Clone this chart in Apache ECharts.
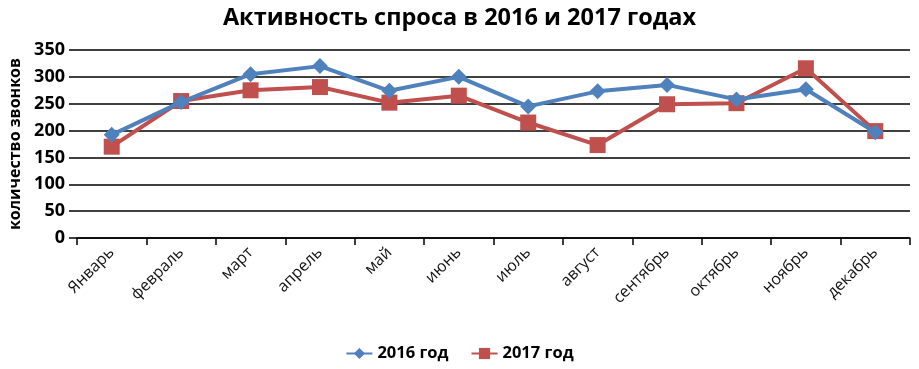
<!DOCTYPE html>
<html><head><meta charset="utf-8">
<script src="https://cdn.jsdelivr.net/npm/echarts@6/dist/echarts.min.js"></script>
<style>html,body{margin:0;padding:0;background:#fff}#c{width:919px;height:369px}</style>
</head><body><div id="c"></div>
<script>
const months = ['Январь','февраль','март','апрель','май','июнь','июль','август','сентябрь','октябрь','ноябрь','декабрь'];
const values2016 = [192, 253, 305, 320, 274, 300, 245, 273, 285, 258, 277, 197];
const values2017 = [170, 255, 275, 281, 252, 265, 215, 173, 249, 251, 316, 199];
const seriesNames = ['2016 год', '2017 год'];
const yTicks = {min: 0, max: 350, interval: 50};

const font = '"Open Sans", Lato, sans-serif';
const chart = echarts.init(document.getElementById('c'));
chart.setOption({
  animation: false,
  title: {
    text: 'Активность спроса в 2016 и 2017 годах',
    left: 'center', top: 1,
    textStyle: {fontFamily: font, fontWeight: 'bold', fontSize: 23.5, color: '#000'}
  },
  legend: {
    bottom: 2, left: 'center', itemGap: 22, itemWidth: 26, itemHeight: 14,
    textStyle: {fontFamily: font, fontWeight: 'bold', fontSize: 16.5, color: '#000'},
    data: seriesNames
  },
  grid: {left: 77, right: 9, top: 50, bottom: 131, outerBoundsMode: 'none', containLabel: false},
  xAxis: {
    type: 'category', data: months, boundaryGap: true,
    axisLine: {lineStyle: {color: '#000', width: 1.5}},
    axisTick: {show: true, length: 7, lineStyle: {color: '#000', width: 1.5}},
    axisLabel: {rotate: 45, fontFamily: font, fontSize: 16, color: '#111', margin: 12}
  },
  yAxis: {
    type: 'value', min: yTicks.min, max: yTicks.max, interval: yTicks.interval,
    name: 'количество звонков', nameLocation: 'middle', nameGap: 51, nameRotate: 90,
    nameTextStyle: {fontFamily: font, fontWeight: 'bold', fontSize: 16, color: '#000'},
    axisLine: {show: false},
    axisTick: {show: true, length: 8, lineStyle: {color: '#000', width: 1.5}},
    splitLine: {lineStyle: {color: '#000', width: 1.5}},
    axisLabel: {fontFamily: font, fontWeight: 'bold', fontSize: 18, color: '#000', margin: 12}
  },
  series: [
    {name: seriesNames[0], type: 'line', data: values2016, symbol: 'diamond', symbolSize: 16,
     lineStyle: {color: '#4F81BD', width: 4}, itemStyle: {color: '#4F81BD'}, z: 3},
    {name: seriesNames[1], type: 'line', data: values2017, symbol: 'rect', symbolSize: 16,
     lineStyle: {color: '#C0504D', width: 4}, itemStyle: {color: '#C0504D'}, z: 2}
  ]
});
</script></body></html>
